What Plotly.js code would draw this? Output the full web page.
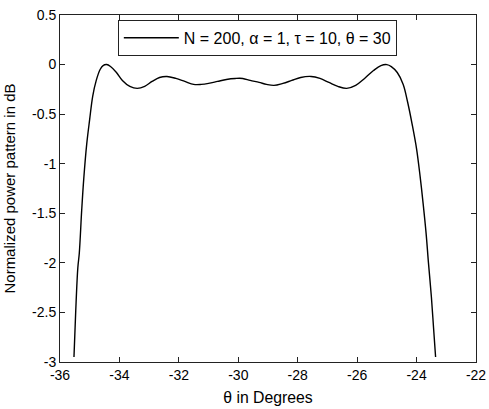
<!DOCTYPE html>
<html>
<head>
<meta charset="utf-8">
<script src="https://cdn.plot.ly/plotly-3.0.1.min.js"></script>
<style>
	body { margin: 0; background: #fff; }
	#graph { width: 489px; height: 409px; }
</style>
</head>
<body>
<div id="graph"></div>
<script>
// normalized power pattern
var theta = [-35.53, -35.47, -35.40, -35.35, -35.27, -35.20, -35.10, -35.00, -34.90, -34.78,
	-34.65, -34.55, -34.43, -34.30, -34.10, -33.90, -33.65, -33.40, -33.15, -32.90,
	-32.65, -32.40, -32.10, -31.80, -31.50, -31.25, -31.00, -30.70, -30.40, -30.10,
	-29.85, -29.60, -29.30, -29.05, -28.80, -28.50, -28.20, -27.90, -27.55, -27.25,
	-26.95, -26.65, -26.35, -26.05, -25.75, -25.45, -25.20, -25.00, -24.85, -24.65,
	-24.45, -24.30, -24.15, -24.00, -23.88, -23.78, -23.68, -23.60, -23.50, -23.43, -23.36];
var power_db = [-2.95, -2.48, -2.05, -1.90, -1.47, -1.15, -0.80, -0.55, -0.32, -0.16,
	-0.05, -0.01, 0.00, -0.02, -0.08, -0.16, -0.22, -0.24, -0.22, -0.17,
	-0.13, -0.12, -0.14, -0.17, -0.20, -0.20, -0.19, -0.17, -0.15, -0.14,
	-0.14, -0.16, -0.18, -0.20, -0.21, -0.19, -0.16, -0.13, -0.12, -0.14,
	-0.18, -0.22, -0.24, -0.21, -0.14, -0.06, -0.01, 0.00, -0.02, -0.08,
	-0.20, -0.38, -0.60, -0.85, -1.13, -1.40, -1.70, -2.00, -2.35, -2.65, -2.95];

var x_ticks = [-36, -34, -32, -30, -28, -26, -24, -22];
var x_labels = ["-36", "-34", "-32", "-30", "-28", "-26", "-24", "-22"];
var y_ticks = [0.5, 0, -0.5, -1, -1.5, -2, -2.5, -3];
var y_labels = ["0.5", "0", "-0.5", "-1", "-1.5", "-2", "-2.5", "-3"];

var trace1 = {
	x: theta,
	y: power_db,
	mode: 'lines',
	type: 'scatter',
	line: {color: '#000', width: 1.4, shape: 'spline'},
	name: 'N = 200, \u03b1 = 1, \u03c4 = 10, \u03b8 = 30',
	showlegend: true
};

var layout = {
	width: 489,
	height: 409,
	margin: {l: 60, r: 13, t: 15, b: 47},
	paper_bgcolor: '#fff',
	plot_bgcolor: '#fff',
	font: {family: 'Arial, "Liberation Sans", sans-serif', size: 13, color: '#000'},
	xaxis: {
		range: [-36, -22],
		tickvals: x_ticks,
		ticktext: x_labels,
		tickfont: {size: 14},
		ticks: 'inside',
		ticklen: 5,
		tickcolor: '#222',
		showline: true,
		linecolor: '#222',
		linewidth: 1,
		mirror: 'ticks',
		showgrid: false,
		zeroline: false,
		title: {text: '\u03b8 in Degrees', standoff: 10, font: {size: 15.8}}
	},
	yaxis: {
		range: [-3, 0.5],
		tickvals: y_ticks,
		ticktext: y_labels,
		tickfont: {size: 14},
		ticks: 'inside',
		ticklen: 5,
		tickcolor: '#222',
		showline: true,
		linecolor: '#222',
		linewidth: 1,
		mirror: 'ticks',
		showgrid: false,
		zeroline: false,
		title: {text: 'Normalized power pattern in dB', standoff: 12, font: {size: 15}}
	},
	showlegend: true,
	legend: {
		x: 0.139,
		y: 0.986,
		xanchor: 'left',
		yanchor: 'top',
		bgcolor: '#fff',
		bordercolor: '#222',
		borderwidth: 1,
		itemwidth: 55,
		font: {size: 16}
	}
};

Plotly.newPlot("graph", [trace1], layout, {displayModeBar: false, staticPlot: true});
</script>
</body>
</html>
